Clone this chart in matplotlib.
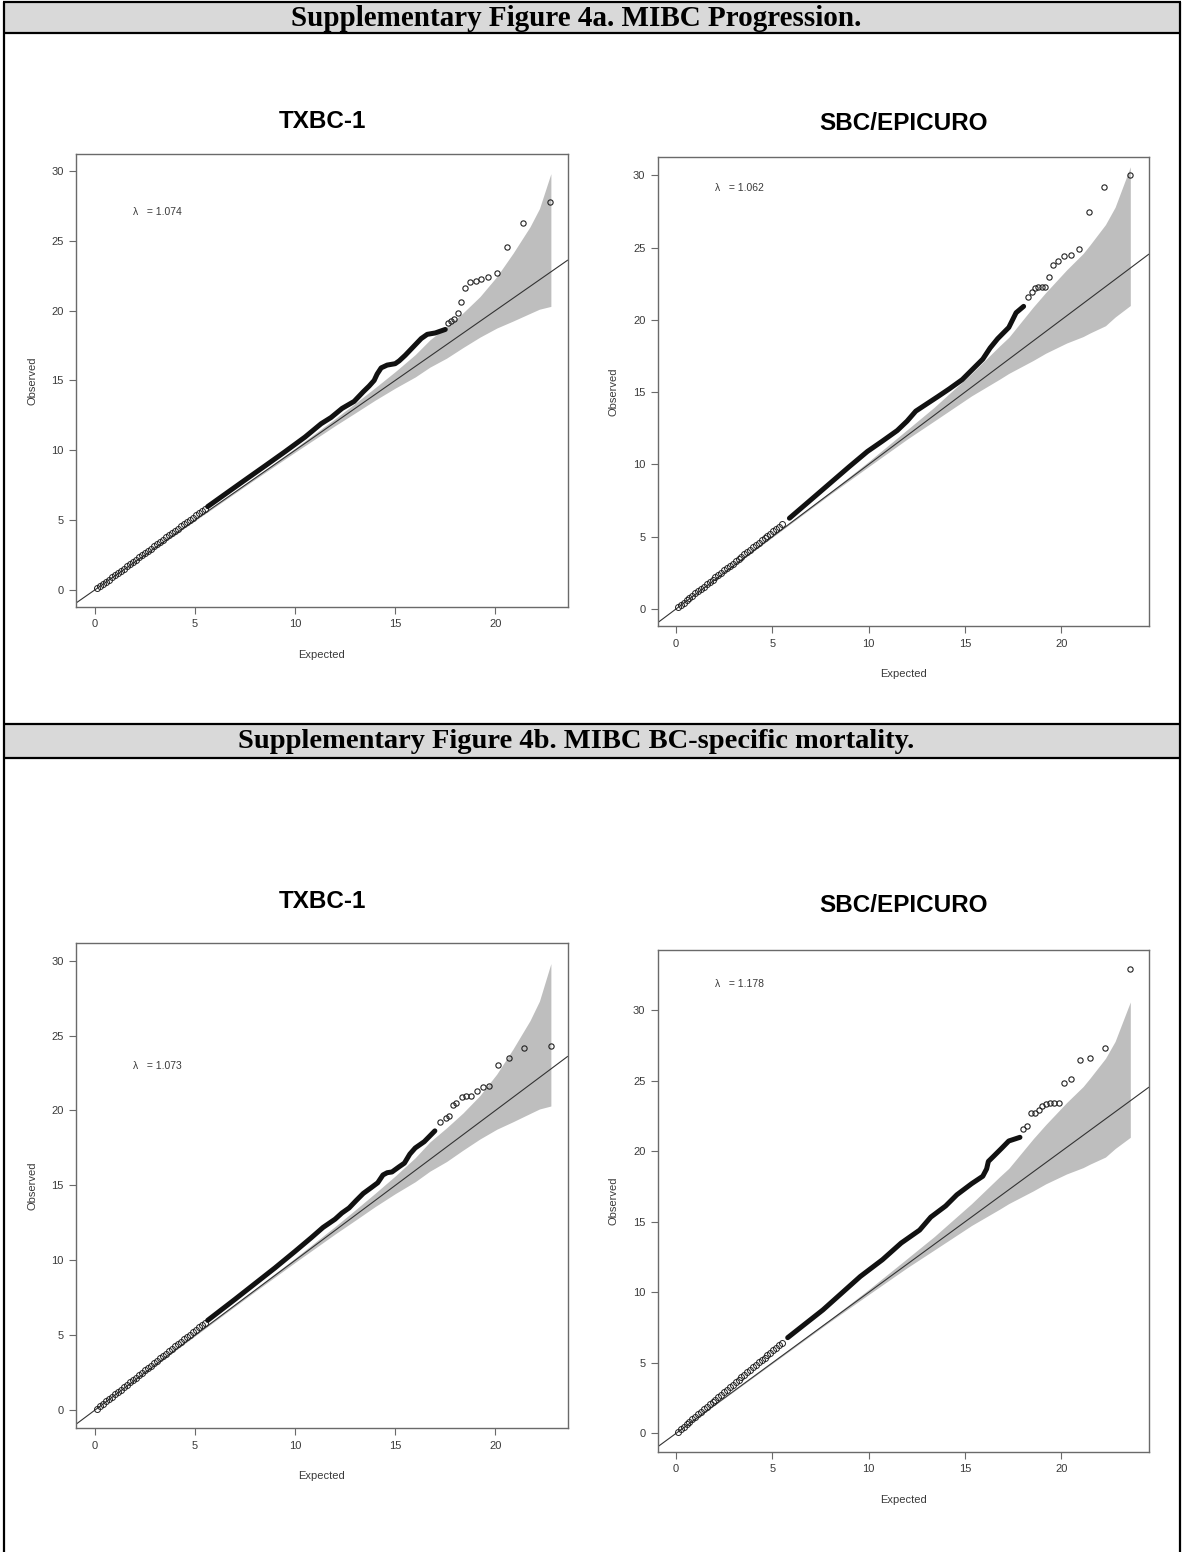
import matplotlib
matplotlib.use("Agg")
import matplotlib.pyplot as plt
from matplotlib import font_manager
from matplotlib.patches import Rectangle

# ---------------------------------------------------------------- data
headers = ["Supplementary Figure 4a. MIBC Progression.",
           "Supplementary Figure 4b. MIBC BC-specific mortality."]
titles = ["TXBC-1", "SBC/EPICURO", "TXBC-1", "SBC/EPICURO"]
lambdas = ["1.074", "1.062", "1.073", "1.178"]
x_ticks = [0, 5, 10, 15, 20]
y_ticks = [0, 5, 10, 15, 20, 25, 30]

# thinned lower part of each QQ plot (expected chi-square quantiles)
low_expected = [0.10, 0.25, 0.40, 0.55, 0.70, 0.85, 1.00, 1.15, 1.30, 1.45,
                1.60, 1.75, 1.90, 2.05, 2.20, 2.35, 2.50, 2.65, 2.80, 2.95,
                3.10, 3.25, 3.40, 3.55, 3.70, 3.85, 4.00, 4.15, 4.30, 4.45,
                4.60, 4.75, 4.90, 5.05, 5.20, 5.35, 5.50]
low_obs_txbc_prog = [0.11, 0.27, 0.43, 0.58, 0.74, 0.90, 1.06, 1.22, 1.38, 1.53,
                     1.69, 1.85, 2.01, 2.17, 2.33, 2.49, 2.65, 2.80, 2.96, 3.12,
                     3.28, 3.44, 3.60, 3.76, 3.91, 4.07, 4.23, 4.39, 4.55, 4.71,
                     4.87, 5.03, 5.18, 5.34, 5.50, 5.66, 5.82]
low_obs_sbc_prog = [0.11, 0.27, 0.43, 0.59, 0.75, 0.91, 1.07, 1.23, 1.39, 1.55,
                    1.71, 1.87, 2.03, 2.19, 2.35, 2.51, 2.67, 2.82, 2.98, 3.14,
                    3.30, 3.46, 3.62, 3.78, 3.94, 4.10, 4.26, 4.42, 4.58, 4.74,
                    4.90, 5.06, 5.22, 5.38, 5.54, 5.70, 5.86]
low_obs_txbc_mort = [0.11, 0.27, 0.43, 0.59, 0.74, 0.90, 1.06, 1.22, 1.38, 1.54,
                     1.70, 1.86, 2.02, 2.18, 2.34, 2.50, 2.66, 2.82, 2.98, 3.14,
                     3.30, 3.46, 3.62, 3.78, 3.94, 4.10, 4.26, 4.42, 4.58, 4.73,
                     4.89, 5.05, 5.21, 5.37, 5.53, 5.69, 5.85]
low_obs_sbc_mort = [0.12, 0.29, 0.47, 0.64, 0.82, 0.99, 1.17, 1.35, 1.52, 1.70,
                    1.87, 2.05, 2.22, 2.40, 2.57, 2.75, 2.93, 3.10, 3.28, 3.45,
                    3.63, 3.80, 3.98, 4.15, 4.33, 4.50, 4.68, 4.86, 5.03, 5.21,
                    5.38, 5.56, 5.73, 5.91, 6.08, 6.26, 6.44]

# dense middle part (all SNPs plotted, overlapping into a solid trace)
dense_exp_txbc_prog = [5.64, 6.5, 7.5, 8.5, 9.5, 10.5, 11.3, 11.8, 12.35, 12.95, 13.4,
                       13.7, 13.95, 14.1, 14.3, 14.6, 15.0, 15.2, 15.5, 15.9, 16.3,
                       16.6, 17.0, 17.5]
dense_obs_txbc_prog = [5.97, 6.85, 7.87, 8.88, 9.9, 10.95, 11.9, 12.35, 13.0, 13.5, 14.18,
                       14.6, 15.0, 15.46, 15.9, 16.1, 16.2, 16.4, 16.8, 17.4, 18.0,
                       18.3, 18.4, 18.65]
dense_exp_sbc_prog = [5.89, 7.0, 8.0, 9.0, 9.94, 10.7, 11.49, 12.0, 12.45, 13.03, 13.6,
                      14.19, 14.86, 15.35, 15.93, 16.31, 16.7, 17.28, 17.66, 18.05]
dense_obs_sbc_prog = [6.28, 7.55, 8.7, 9.85, 10.9, 11.6, 12.35, 13.0, 13.69, 14.2, 14.7,
                      15.23, 15.87, 16.52, 17.29, 18.06, 18.7, 19.48, 20.5, 20.94]
dense_exp_txbc_mort = [5.64, 7.0, 8.0, 9.0, 10.0, 10.8, 11.4, 12.0, 12.34, 12.7, 13.05,
                       13.41, 13.8, 14.13, 14.39, 14.6, 14.84, 15.2, 15.46, 15.73,
                       16.0, 16.45, 16.98]
dense_obs_txbc_mort = [6.0, 7.4, 8.45, 9.5, 10.6, 11.5, 12.2, 12.75, 13.16, 13.5, 13.99,
                       14.47, 14.85, 15.18, 15.7, 15.85, 15.9, 16.25, 16.49, 17.09,
                       17.5, 17.92, 18.64]
dense_exp_sbc_mort = [5.8, 7.63, 9.57, 10.72, 11.69, 12.65, 13.23, 14.0, 14.58, 15.35,
                      15.93, 16.13, 16.22, 16.51, 16.9, 17.28, 17.86]
dense_obs_sbc_mort = [6.79, 8.76, 11.13, 12.32, 13.5, 14.42, 15.34, 16.13, 16.92, 17.71,
                      18.24, 18.76, 19.29, 19.68, 20.21, 20.74, 21.0]

# top hits
top_exp_txbc_prog = [17.65, 17.79, 17.93, 18.15, 18.3, 18.5, 18.73, 19.02, 19.28, 19.65,
                     20.06, 20.6, 21.39, 22.72]
top_obs_txbc_prog = [19.1, 19.24, 19.38, 19.8, 20.6, 21.6, 22.07, 22.1, 22.24, 22.43,
                     22.67, 24.57, 26.3, 27.8]
top_exp_sbc_prog = [18.3, 18.5, 18.65, 18.8, 18.98, 19.17, 19.38, 19.6, 19.86, 20.15,
                    20.49, 20.92, 21.46, 22.24, 23.57]
top_obs_sbc_prog = [21.6, 21.95, 22.2, 22.25, 22.25, 22.3, 23.0, 23.8, 24.1, 24.4,
                    24.5, 24.9, 27.5, 29.2, 30.05]
top_exp_txbc_mort = [17.25, 17.52, 17.7, 17.91, 18.05, 18.32, 18.55, 18.8, 19.09, 19.39,
                     19.7, 20.14, 20.68, 21.45, 22.79]
top_obs_txbc_mort = [19.23, 19.52, 19.6, 20.35, 20.5, 20.9, 20.97, 20.97, 21.3, 21.57,
                     21.66, 23.05, 23.47, 24.17, 24.33]
top_exp_sbc_mort = [18.0, 18.25, 18.45, 18.64, 18.83, 19.03, 19.22, 19.41, 19.64, 19.89,
                    20.15, 20.53, 20.96, 21.5, 22.27, 23.6]
top_obs_sbc_mort = [21.6, 21.8, 22.76, 22.76, 22.92, 23.24, 23.37, 23.42, 23.42, 23.42,
                    24.82, 25.13, 26.45, 26.6, 27.37, 32.97]

# 95% confidence band of the null order statistics, per cohort
band_exp_txbc = [0.0, 8.0, 10.0, 12.0, 13.0, 14.0, 15.0, 16.0, 16.73, 17.57, 18.38,
                 19.23, 20.07, 20.88, 21.73, 22.2, 22.77]
band_lo_txbc = [0.0, 7.92, 9.86, 11.76, 12.67, 13.59, 14.45, 15.25, 15.95, 16.6, 17.35,
                18.1, 18.75, 19.25, 19.8, 20.1, 20.3]
band_hi_txbc = [0.0, 8.09, 10.15, 12.26, 13.36, 14.48, 15.63, 16.85, 17.9, 18.85, 19.83,
                21.0, 22.43, 24.1, 26.0, 27.3, 29.8]
band_exp_sbc = [0.0, 8.0, 10.0, 12.0, 13.4, 15.35, 16.8, 17.28, 18.55, 19.2, 20.28,
                21.14, 21.5, 22.3, 22.8, 23.59]
band_lo_sbc = [0.0, 7.93, 9.85, 11.75, 13.0, 14.75, 15.9, 16.3, 17.2, 17.7, 18.4,
               18.85, 19.1, 19.6, 20.2, 21.0]
band_hi_sbc = [0.0, 8.1, 10.2, 12.4, 13.95, 16.3, 18.2, 18.8, 20.9, 21.9, 23.46,
               24.6, 25.2, 26.6, 27.8, 30.6]

# ---------------------------------------------------------------- layout
W, H = 1183, 1552
fig = plt.figure(figsize=(W / 100, H / 100), dpi=100)
fig.patch.set_facecolor("white")

names = {f.name for f in font_manager.fontManager.ttflist}
sans = "Liberation Sans" if "Liberation Sans" in names else "DejaVu Sans"
narrow = "Liberation Sans Narrow" if "Liberation Sans Narrow" in names else sans
serif = "Liberation Serif" if "Liberation Serif" in names else "DejaVu Serif"

# page / table frame drawn in pixel coordinates
bg = fig.add_axes([0, 0, 1, 1], zorder=0)
bg.set_xlim(0, W)
bg.set_ylim(H, 0)
bg.axis("off")
for y0, y1 in [(2, 33), (724, 758)]:
    bg.add_patch(Rectangle((4, y0), 1176, y1 - y0, facecolor="#d9d9d9", edgecolor="none"))
for y in [2, 33, 724, 758]:
    bg.plot([3, 1181], [y, y], color="black", lw=1.6, solid_capstyle="butt")
for x in [4, 1180]:
    bg.plot([x, x], [2, H], color="black", lw=1.6, solid_capstyle="butt")
bg.text(576, 18, headers[0], ha="center", va="center", family=serif,
        fontweight="bold", fontsize=21)
bg.text(576, 742, headers[1], ha="center", va="center", family=serif,
        fontweight="bold", fontsize=20.5)


def add_px_axes(left, top, right, bottom):
    return fig.add_axes([left / W, 1 - bottom / H, (right - left) / W, (bottom - top) / H],
                        zorder=1)


panels = [
    dict(box=(76.4, 154.1, 567.5, 606.8), title_y=122, font=narrow,
         xlim=(-0.91, 23.6), ylim=(-1.2, 31.2), lam_pos=(1.92, 27.05),
         low=low_obs_txbc_prog, dx=dense_exp_txbc_prog, dy=dense_obs_txbc_prog,
         tx=top_exp_txbc_prog, ty=top_obs_txbc_prog,
         bx=band_exp_txbc, blo=band_lo_txbc, bhi=band_hi_txbc),
    dict(box=(657.9, 157.1, 1148.6, 626.3), title_y=123, font=sans,
         xlim=(-0.94, 24.54), ylim=(-1.2, 31.27), lam_pos=(2.02, 29.1),
         low=low_obs_sbc_prog, dx=dense_exp_sbc_prog, dy=dense_obs_sbc_prog,
         tx=top_exp_sbc_prog, ty=top_obs_sbc_prog,
         bx=band_exp_sbc, blo=band_lo_sbc, bhi=band_hi_sbc),
    dict(box=(76.4, 942.6, 567.5, 1428.3), title_y=901, font=narrow,
         xlim=(-0.91, 23.6), ylim=(-1.2, 31.2), lam_pos=(1.92, 23.0),
         low=low_obs_txbc_mort, dx=dense_exp_txbc_mort, dy=dense_obs_txbc_mort,
         tx=top_exp_txbc_mort, ty=top_obs_txbc_mort,
         bx=band_exp_txbc, blo=band_lo_txbc, bhi=band_hi_txbc),
    dict(box=(657.9, 949.8, 1148.6, 1452.0), title_y=905, font=sans,
         xlim=(-0.94, 24.54), ylim=(-1.32, 34.3), lam_pos=(2.02, 31.9),
         low=low_obs_sbc_mort, dx=dense_exp_sbc_mort, dy=dense_obs_sbc_mort,
         tx=top_exp_sbc_mort, ty=top_obs_sbc_mort,
         bx=band_exp_sbc, blo=band_lo_sbc, bhi=band_hi_sbc),
]

frame_col = "#6a6a6a"
text_col = "#3a3a3a"
pt_col = "#222222"

for p, title, lam in zip(panels, titles, lambdas):
    left, top, right, bottom = p["box"]
    ax = add_px_axes(left, top, right, bottom)
    ax.set_xlim(*p["xlim"])
    ax.set_ylim(*p["ylim"])

    ax.fill_between(p["bx"], p["blo"], p["bhi"], color="#bebebe", lw=0, zorder=1)
    ax.axline((0, 0), slope=1, color="#333333", lw=0.8, zorder=2)
    ax.plot(low_expected, p["low"], "o", mfc="none", mec=pt_col, ms=4.3, mew=0.7, zorder=3)
    ax.plot(p["dx"], p["dy"], "-", color="#111111", lw=3.6,
            solid_capstyle="round", solid_joinstyle="round", zorder=3)
    ax.plot(p["tx"], p["ty"], "o", mfc="none", mec=pt_col, ms=3.8, mew=0.8, zorder=4)

    ax.text(p["lam_pos"][0], p["lam_pos"][1], "\u03bb   = " + lam, ha="left", va="center",
            fontsize=7.5, color=text_col, family=p["font"])

    for s in ax.spines.values():
        s.set_color(frame_col)
        s.set_linewidth(1.0)
    ax.set_xticks(x_ticks)
    ax.set_yticks([t for t in y_ticks if t <= p["ylim"][1]])
    ax.tick_params(direction="out", length=5, width=0.8, color=frame_col,
                   labelcolor=text_col, labelsize=8, pad=4)
    for lab in ax.get_xticklabels() + ax.get_yticklabels():
        lab.set_family(p["font"])

    hpx = bottom - top
    wpx = right - left
    ax.set_xlabel("Expected", fontsize=8, color=text_col, family=p["font"], va="center")
    ax.xaxis.set_label_coords(0.5, -48 / hpx)
    ax.set_ylabel("Observed", fontsize=8, color=text_col, family=p["font"], va="center")
    ax.yaxis.set_label_coords(-44 / wpx, 0.5)

    bg.text((left + right) / 2, p["title_y"], title, ha="center", va="center",
            family=sans, fontweight="bold", fontsize=17.5, color="black")

fig.savefig("out.png", dpi=100, facecolor="white")
